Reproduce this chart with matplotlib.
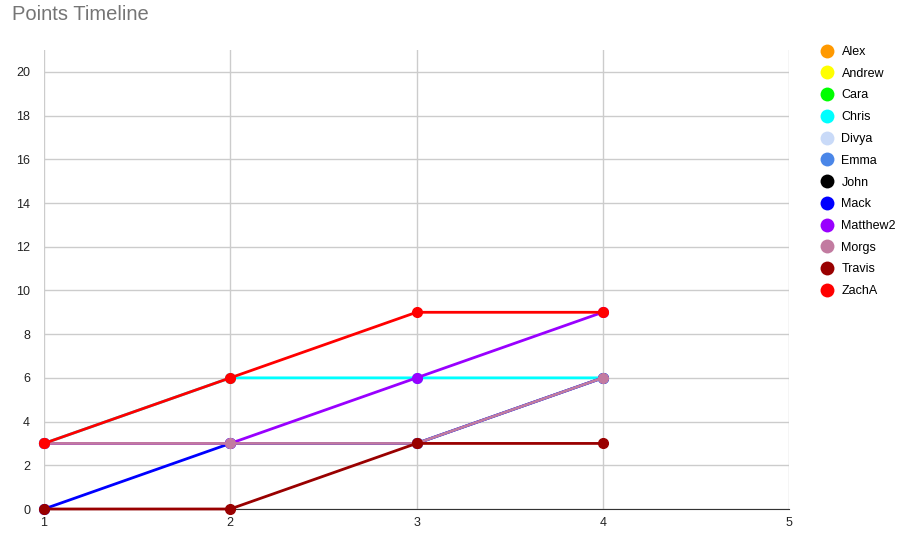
import numpy as np
import matplotlib.pyplot as plt
from matplotlib.lines import Line2D

plt.rcParams['font.family'] = ['Liberation Sans', 'DejaVu Sans']

# rounds on the x axis
rounds = [1, 2, 3, 4]
nan = np.nan

# points per player (players with no data are empty)
alex     = [nan, nan, nan, nan]
andrew   = [nan, nan, nan, nan]
cara     = [nan, nan, nan, nan]
chris    = [3, 6, 6, 6]
divya    = [3, 3, 3, 6]
emma     = [3, 3, 3, 6]
john     = [nan, nan, nan, nan]
mack     = [0, 3, 3, 6]
matthew2 = [3, 3, 6, 9]
morgs    = [3, 3, 3, 6]
travis   = [0, 0, 3, 3]
zacha    = [3, 6, 9, 9]

names = ["Alex", "Andrew", "Cara", "Chris", "Divya", "Emma", "John",
         "Mack", "Matthew2", "Morgs", "Travis", "ZachA"]
series = [alex, andrew, cara, chris, divya, emma, john,
          mack, matthew2, morgs, travis, zacha]
colors = ["#ff9900", "#ffff00", "#00ff00", "#00ffff", "#c9daf8", "#4a86e8",
          "#000000", "#0000ff", "#9900ff", "#c27ba0", "#990000", "#ff0000"]

fig = plt.figure(figsize=(8.99, 5.35), dpi=100)
ax = fig.add_axes([44/899, 26/535, 745/899, 459/535])

for i, (name, vals, col) in enumerate(zip(names, series, colors)):
    ax.plot(rounds, vals, color=col, lw=2, marker='o', ms=7,
            label=name, zorder=3 + i, clip_on=False)

ax.set_xlim(1, 5)
ax.set_ylim(0, 21)
ax.set_xticks([1, 2, 3, 4, 5])
ax.set_yticks(np.arange(0, 21, 2))
ax.grid(True, color='#cccccc', lw=1)
ax.set_axisbelow(True)
for s in ['top', 'right', 'left']:
    ax.spines[s].set_visible(False)
ax.spines['bottom'].set_color('#333333')
ax.spines['bottom'].set_zorder(2)
ax.tick_params(length=0, labelsize=9, colors='#222222', pad=6)
ax.tick_params(axis='y', pad=10)

fig.text(12/899, 1 - 15/535, "Points Timeline", fontsize=14.5, color='#757575',
         va='center', ha='left')

handles = [Line2D([], [], ls='', marker='o', ms=10, color=c, markeredgewidth=0)
           for c in colors]
fig.legend(handles, names, loc='upper left', bbox_to_anchor=(814/899, 1 - 41/535),
           frameon=False, fontsize=9, labelspacing=0.78, handletextpad=0.6,
           handlelength=1.2, borderaxespad=0)

fig.savefig('out.png', dpi=100)
